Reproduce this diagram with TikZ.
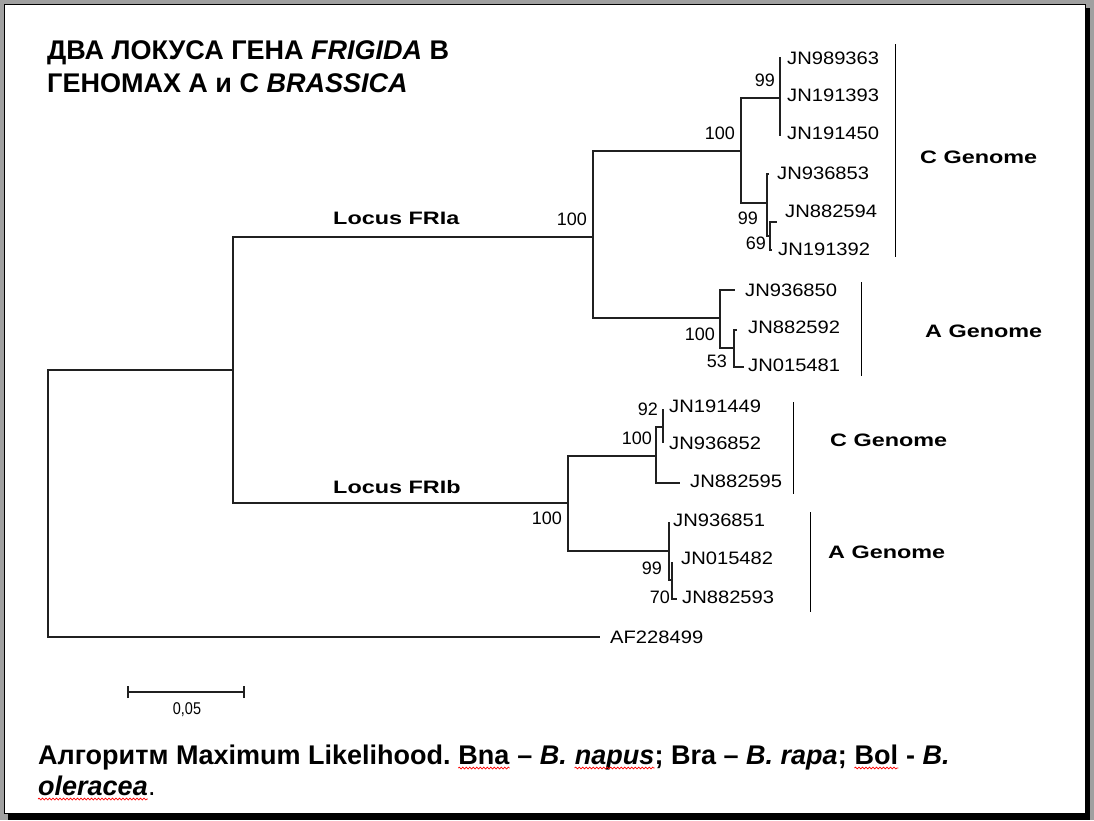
\documentclass[tikz,border=0pt]{standalone}
\usepackage{fontspec}
\usepackage{graphicx}
\setmainfont{Liberation Sans}
\usetikzlibrary{decorations.pathmorphing}
\definecolor{bggrey}{HTML}{A0A0A0}
\definecolor{treeline}{HTML}{202020}
\newcommand{\leafname}[1]{\scalebox{1.12}[1]{#1}}
\newcommand{\boldlbl}[1]{\scalebox{1.3}[1]{#1}}
\begin{document}
\begin{tikzpicture}[x=1pt,y=-1pt,
  branch/.style={line width=1.3pt, draw=treeline},
  leaflbl/.style={anchor=west, inner sep=0pt, font=\fontsize{18}{18}\selectfont},
  boot/.style={anchor=east, inner sep=0pt, font=\fontsize{18}{18}\selectfont},
  grouplbl/.style={anchor=west, inner sep=0pt, font=\fontsize{18}{18}\selectfont\bfseries},
  genbar/.style={line width=1pt, draw=black},
  titletext/.style={anchor=base west, inner sep=0pt, font=\fontsize{27}{27}\selectfont\bfseries},
  foot/.style={anchor=base west, inner sep=0pt, font=\fontsize{27}{27}\selectfont\bfseries},
  wavy/.style={draw=red, line width=0.7pt, decorate, decoration={snake, amplitude=0.9pt, segment length=3.5pt}}]
% page
\fill[bggrey] (0,0) rectangle (1094,820);
\fill[black] (8,8) rectangle (1090,820);
\filldraw[fill=white, draw=black, line width=1pt] (4.5,4.5) rectangle (1085.5,813.5);
\useasboundingbox (0,0) rectangle (1094,820);
% title
\node[titletext] (t1) at (47,59) {ДВА ЛОКУСА ГЕНА \textit{FRIGIDA} В};
\node[titletext] (t2) at (47,92) {ГЕНОМАХ А и С \textit{BRASSICA}};
% tree points
\coordinate (root) at (48,503);
\coordinate (n1) at (233,370);
\coordinate (af) at (600,637);
\coordinate (fria) at (593,237);
\coordinate (frib) at (568,503);
\coordinate (ca) at (741,151);
\coordinate (ca1) at (780,98);
\coordinate (l1) at (781,58);
\coordinate (l3) at (781,135);
\coordinate (ca2) at (767,203);
\coordinate (l4) at (769,174);
\coordinate (n69) at (770,236);
\coordinate (l5) at (777,222);
\coordinate (l6) at (772,250);
\coordinate (aa) at (720,318);
\coordinate (l7) at (735,290);
\coordinate (n53) at (734,348);
\coordinate (l8) at (737,330);
\coordinate (l9) at (744,367);
\coordinate (cb) at (656,456);
\coordinate (n92) at (663,427);
\coordinate (l10) at (664,410);
\coordinate (l11) at (664,442);
\coordinate (l12) at (680,483);
\coordinate (ab) at (669,551);
\coordinate (l13) at (670,523);
\coordinate (n70) at (672,580);
\coordinate (l14) at (673,563);
\coordinate (l15) at (677,599);
% branches
\draw[branch] (root) |- (n1);
\draw[branch] (root) |- (af);
\draw[branch] (n1) |- (fria);
\draw[branch] (n1) |- (frib);
\draw[branch] (fria) |- (ca);
\draw[branch] (fria) |- (aa);
\draw[branch] (ca) |- (ca1);
\draw[branch] (ca) |- (ca2);
\draw[branch] (ca1) |- (l1);
\draw[branch] (ca1) |- (l3);
\draw[branch] (ca2) |- (l4);
\draw[branch] (ca2) |- (n69);
\draw[branch] (n69) |- (l5);
\draw[branch] (n69) |- (l6);
\draw[branch] (aa) |- (l7);
\draw[branch] (aa) |- (n53);
\draw[branch] (n53) |- (l8);
\draw[branch] (n53) |- (l9);
\draw[branch] (frib) |- (cb);
\draw[branch] (frib) |- (ab);
\draw[branch] (cb) |- (n92);
\draw[branch] (cb) |- (l12);
\draw[branch] (n92) |- (l10);
\draw[branch] (n92) |- (l11);
\draw[branch] (ab) |- (l13);
\draw[branch] (ab) |- (n70);
\draw[branch] (n70) |- (l14);
\draw[branch] (n70) |- (l15);
% leaf labels
\node[leaflbl] (tJN989363) at (787,58) {\leafname{JN989363}};
\node[leaflbl] (tJN191393) at (787,95) {\leafname{JN191393}};
\node[leaflbl] (tJN191450) at (787,133) {\leafname{JN191450}};
\node[leaflbl] (tJN936853) at (777,173) {\leafname{JN936853}};
\node[leaflbl] (tJN882594) at (785,211) {\leafname{JN882594}};
\node[leaflbl] (tJN191392) at (778,249) {\leafname{JN191392}};
\node[leaflbl] (tJN936850) at (745,290) {\leafname{JN936850}};
\node[leaflbl] (tJN882592) at (748,327) {\leafname{JN882592}};
\node[leaflbl] (tJN015481) at (748,365) {\leafname{JN015481}};
\node[leaflbl] (tJN191449) at (669,406) {\leafname{JN191449}};
\node[leaflbl] (tJN936852) at (669,443) {\leafname{JN936852}};
\node[leaflbl] (tJN882595) at (690,481) {\leafname{JN882595}};
\node[leaflbl] (tJN936851) at (673,520) {\leafname{JN936851}};
\node[leaflbl] (tJN015482) at (681,558) {\leafname{JN015482}};
\node[leaflbl] (tJN882593) at (682,597) {\leafname{JN882593}};
\node[leaflbl] (tAF228499) at (610,637) {\leafname{AF228499}};
% bootstrap values
\node[boot] (b1) at (587,219) {100};
\node[boot] (b2) at (735,133) {100};
\node[boot] (b3) at (775,80) {99};
\node[boot] (b4) at (758,218) {99};
\node[boot] (b5) at (766,243) {69};
\node[boot] (b6) at (715,334) {100};
\node[boot] (b7) at (727,361) {53};
\node[boot] (b8) at (562,518) {100};
\node[boot] (b9) at (658,409) {92};
\node[boot] (b10) at (652,438) {100};
\node[boot] (b11) at (662,568) {99};
\node[boot] (b12) at (670,597) {70};
% locus labels
\node[grouplbl] (lfria) at (333,218) {\boldlbl{Locus FRIa}};
\node[grouplbl] (lfrib) at (333,487) {\boldlbl{Locus FRIb}};
% genome bars and labels
\draw[genbar] (895,44) -- (895,257);
\draw[genbar] (861,282) -- (861,376);
\draw[genbar] (793,402) -- (793,494);
\draw[genbar] (810,512) -- (810,612);
\node[grouplbl] (g1) at (920,157) {\boldlbl{C Genome}};
\node[grouplbl] (g2) at (925,331) {\boldlbl{A Genome}};
\node[grouplbl] (g3) at (830,440) {\boldlbl{C Genome}};
\node[grouplbl] (g4) at (828,552) {\boldlbl{A Genome}};
% scale bar
\coordinate (sb1) at (128,692);
\coordinate (sb2) at (244,692);
\draw[line width=1.3pt, draw=treeline] (sb1) -- (sb2);
\draw[line width=1.3pt, draw=treeline] ([yshift=-6pt]sb1) -- ([yshift=6pt]sb1);
\draw[line width=1.3pt, draw=treeline] ([yshift=-6pt]sb2) -- ([yshift=6pt]sb2);
\node[inner sep=0pt, font=\fontsize{17}{17}\selectfont] (sbl) at (187,710) {\scalebox{0.85}[1]{0,05}};
% footnote
\node[foot] (f1) at (38,764) {Алгоритм Maximum Likelihood.};
\node[foot] (f2) at ([xshift=7.5pt]f1.base east) {Bna};
\node[foot] (f3) at (f2.base east) {\ –\ \textit{B.}};
\node[foot] (f4) at ([xshift=7.5pt]f3.base east) {\textit{napus}};
\node[foot] (f5) at (f4.base east) {;\ Bra\ –\ \textit{B.\ rapa};};
\node[foot] (f6) at ([xshift=7.5pt]f5.base east) {Bol};
\node[foot] (f7) at (f6.base east) {\ -\ \textit{B.}};
\node[foot] (f8) at (38,795) {\textit{oleracea}};
\node[foot] (f9) at (f8.base east) {\mdseries .};
\draw[wavy] ([yshift=-4pt]f2.base west) -- ([yshift=-4pt]f2.base east);
\draw[wavy] ([yshift=-4pt]f4.base west) -- ([yshift=-4pt]f4.base east);
\draw[wavy] ([yshift=-4pt]f6.base west) -- ([yshift=-4pt]f6.base east);
\draw[wavy] ([yshift=-4pt]f8.base west) -- ([yshift=-4pt]f8.base east);
\end{tikzpicture}
\end{document}
